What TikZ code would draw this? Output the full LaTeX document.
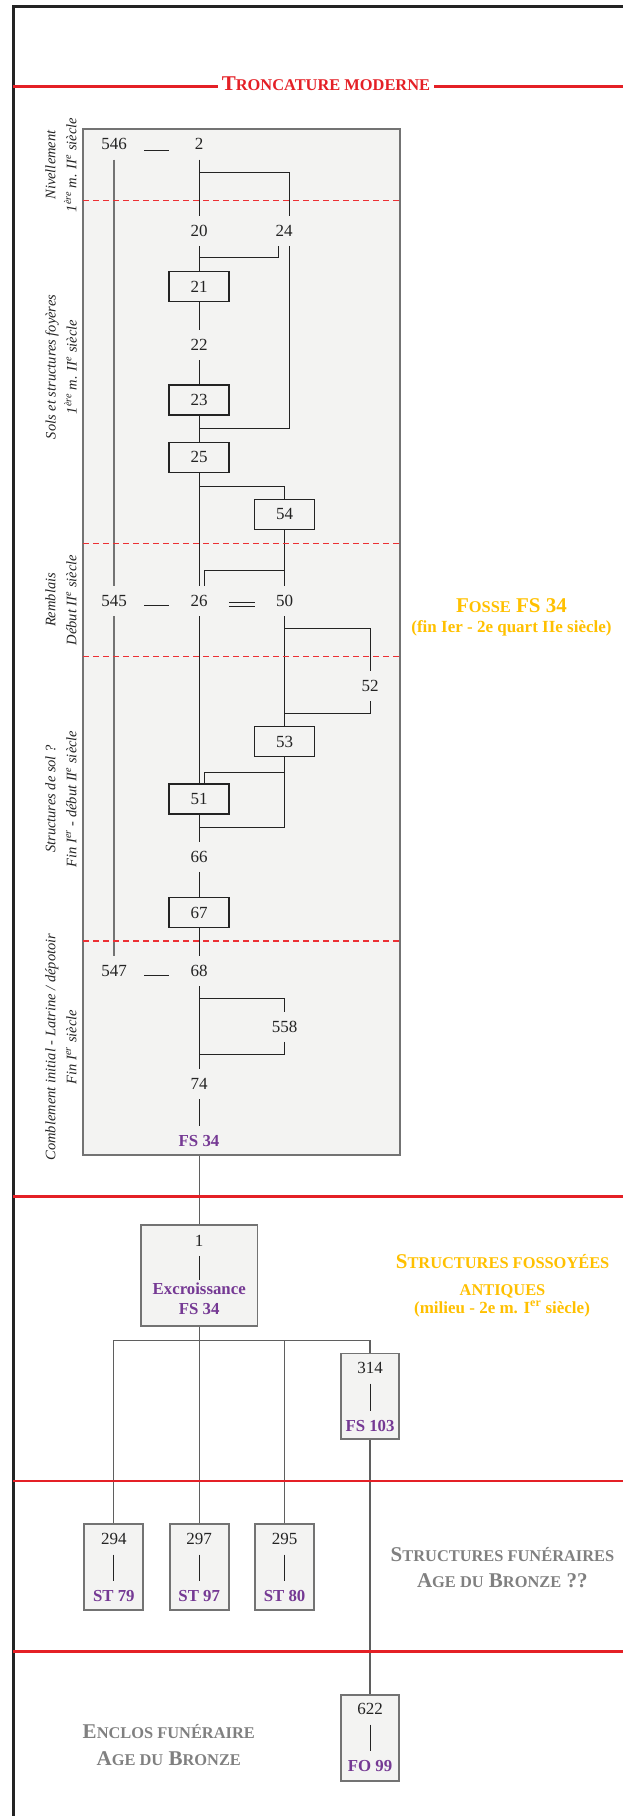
\documentclass[tikz,border=0pt]{standalone}
\usepackage{fontspec}
\setmainfont{Liberation Serif}
\usetikzlibrary{calc}
\definecolor{framegray}{RGB}{35,35,35}
\definecolor{boxgray}{RGB}{115,115,115}
\definecolor{treegray}{RGB}{95,95,95}
\definecolor{usblack}{RGB}{35,35,35}
\definecolor{panelfill}{RGB}{243,243,242}
\definecolor{sepred}{RGB}{228,32,38}
\definecolor{dashred}{RGB}{236,48,52}
\definecolor{fspurple}{RGB}{117,57,148}
\definecolor{gold}{RGB}{255,192,0}
\definecolor{titlegray}{RGB}{128,128,128}
\newcommand{\smc}[1]{{\fontsize{16.4}{18}\selectfont #1}}
\tikzset{
    title/.style={
        anchor=base, inner sep=0pt, font=\bfseries\fontsize{21}{24}\selectfont
    },
    subtitle/.style={
        anchor=base, inner sep=0pt, font=\bfseries\fontsize{17}{20}\selectfont
    }
}

\begin{document}
\begin{tikzpicture}[x=1pt,y=-1pt]

\tikzset{
  us/.style={font=\fontsize{17}{20}\selectfont, text=usblack, minimum height=30pt, inner sep=0pt},
  usbox/.style={us, draw=usblack, line width=1.3pt, fill=panelfill, minimum width=60pt},
  fsl/.style={font=\bfseries\fontsize{16.8}{20}\selectfont, text=fspurple, minimum height=30pt, inner sep=0pt},
  lowbox/.style={draw=boxgray, line width=1.8pt, fill=panelfill, inner sep=0pt},
  panel/.style={draw=boxgray, line width=1.8pt, fill=panelfill, minimum width=317pt, minimum height=1026pt},
  link/.style={draw=usblack, line width=0.9pt},
  col/.style={draw=boxgray, line width=1.5pt},
  tree/.style={draw=treegray, line width=1.2pt},
  sep/.style={draw=sepred, line width=2.6pt},
  cut/.style={draw=dashred, line width=1.2pt, dash pattern=on 6pt off 4pt},
  frame/.style={draw=framegray, line width=3pt},
  period/.style={rotate=90, align=center, inner sep=0pt, text=usblack, font=\itshape\fontsize{14.5}{21}\selectfont},
}

\useasboundingbox (0,0) rectangle (623,1816);

% frame
\draw[frame] (13,1816) -- (13,6) -- (623,6);

% fosse FS 34
\node[panel] (fosse) at (241.5,642) {};

% units
\node[us] (u546) at (114,144.3) {546};
\node[us] (u2) at (199,144.3) {2};
\node[us] (u20) at (199,230.7) {20};
\node[us] (u24) at (284,230.7) {24};
\node[usbox] (b21) at (199,286.7) {21};
\node[us] (u22) at (199,345) {22};
\node[usbox] (b23) at (199,400) {23};
\node[usbox] (b25) at (199,457.3) {25};
\node[usbox] (b54) at (284.5,514.3) {54};
\node[us] (u545) at (114,601) {545};
\node[us] (u26) at (199,601) {26};
\node[us] (u50) at (284.5,601) {50};
\node[us] (u52) at (370,686) {52};
\node[usbox] (b53) at (284.5,741.7) {53};
\node[usbox] (b51) at (199,799) {51};
\node[us] (u66) at (199,856.7) {66};
\node[usbox] (b67) at (199,912.7) {67};
\node[us] (u547) at (114,971) {547};
\node[us] (u68) at (199,971) {68};
\node[us] (u558) at (284.5,1026.7) {558};
\node[us] (u74) at (199,1084) {74};
\node[fsl] (fs34) at (199,1140.7) {FS 34};

% column 546 - 545 - 547
\draw[col] (u546) -- (u545);
\draw[col] (u545) -- (u547);

% equivalences
\draw[link] ($(u546)!0.5!(u2)+(-12.5,6)$) -- ++(25,0);
\draw[link] ($(u545)!0.5!(u26)+(-12.5,4)$) -- ++(25,0);
\draw[link] ($(u547)!0.5!(u68)+(-12.5,4)$) -- ++(25,0);
\draw[link] ($(u26)!0.5!(u50)+(-13,1)$) -- ++(26,0);
\draw[link] ($(u26)!0.5!(u50)+(-13,5)$) -- ++(26,0);

% main sequence
\draw[link] (u2) -- (u20);
\draw[link] (u20) -- (b21);
\draw[link] (b21) -- (u22);
\draw[link] (u22) -- (b23);
\draw[link] (b23) -- (b25);
\draw[link] (b25) -- (u26);
\draw[link] (u26) -- (b51);
\draw[link] (b51) -- (u66);
\draw[link] (u66) -- (b67);
\draw[link] (b67) -- (u68);
\draw[link] (u68) -- (u74);
\draw[link] (u74) -- (fs34);

% side branches
\draw[link] ([yshift=-13pt]u2.south) -| ([xshift=5.5pt]u24.north);
\draw[link] ([yshift=-12pt]u20.south) -| ([xshift=-5.5pt]u24.south);
\draw[link] ([xshift=5.5pt]u24.south) |- ([yshift=-13pt]b23.south);
\draw[link] ([yshift=-13pt]b25.south) -| (b54.north);
\draw[link] (b54) -- (u50);
\draw[link] ([yshift=15pt]u50.north) -| ([xshift=5pt]u26.north);
\draw[link] (u50) -- (b53);
\draw[link] ([yshift=-12pt]u50.south) -| (u52.north);
\draw[link] (u52.south) |- ([yshift=13pt]b53.north);
\draw[link] ([yshift=-15pt]b53.south) -| ([xshift=5pt]b51.north);
\draw[link] (b53.south) |- ([yshift=-13pt]b51.south);
\draw[link] ([yshift=-12pt]u68.south) -| (u558.north);
\draw[link] (u558.south) |- ([yshift=14pt]u74.north);

% phase limits
\draw[cut] (83,200.7) -- (400,200.7);
\draw[cut] (83,543.3) -- (400,543.3);
\draw[cut] (83,656.7) -- (400,656.7);
\draw[cut] (83,941) -- (400,941);

% phases
\node[period] (per1) at (61,165) {Nivellement\\1\textsuperscript{ère} m. II\textsuperscript{e} siècle};
\node[period] (per2) at (61,367) {Sols et structures foyères\\1\textsuperscript{ère} m. II\textsuperscript{e} siècle};
\node[period] (per3) at (61,600) {Remblais\\Début II\textsuperscript{e} siècle};
\node[period] (per4) at (61,799) {Structures de sol ?\\Fin I\textsuperscript{er} - début II\textsuperscript{e} siècle};
\node[period] (per5) at (61,1047) {Comblement initial - Latrine / dépotoir\\Fin I\textsuperscript{er} siècle};

% structures
\node[lowbox, minimum width=116.5pt, minimum height=101pt] (x1) at (199.2,1275.5) {};
\node[us] (x1n) at (199.2,1240.7) {1};
\node[fsl, minimum height=0pt, inner ysep=3.3pt] (x1a) at (199.2,1289) {Excroissance};
\node[fsl, minimum height=0pt] (x1b) at (199.2,1309.3) {FS 34};
\draw[link] (x1n) -- (x1a);

\node[lowbox, minimum width=58.5pt, minimum height=85.5pt] (b314) at (370,1396.3) {};
\node[us] (n314) at (370,1368.3) {314};
\node[fsl] (s314) at (370,1425.7) {FS 103};
\draw[link] (n314) -- (s314);

\node[lowbox, minimum width=59pt, minimum height=86pt] (b294) at (113.8,1567.2) {};
\node[us] (n294) at (113.8,1539.3) {294};
\node[fsl] (s294) at (113.8,1596) {ST 79};
\draw[link] (n294) -- (s294);

\node[lowbox, minimum width=59pt, minimum height=86pt] (b297) at (199.2,1567.2) {};
\node[us] (n297) at (199.2,1539.3) {297};
\node[fsl] (s297) at (199.2,1596) {ST 97};
\draw[link] (n297) -- (s297);

\node[lowbox, minimum width=59pt, minimum height=86pt] (b295) at (284.6,1567.2) {};
\node[us] (n295) at (284.6,1539.3) {295};
\node[fsl] (s295) at (284.6,1596) {ST 80};
\draw[link] (n295) -- (s295);

\node[lowbox, minimum width=58.5pt, minimum height=85.5pt] (b622) at (370,1738) {};
\node[us] (n622) at (370,1709.3) {622};
\node[fsl] (s622) at (370,1766) {FO 99};
\draw[link] (n622) -- (s622);

% tree
\coordinate (fork) at ([yshift=-13.3pt]x1.south);
\draw[tree] (fosse.south -| x1.north) -- (x1.north);
\draw[tree] (x1.south) -- (fork);
\draw[tree] (b294.north) |- (fork) -| (b314.north);
\draw[tree] (fork) -- (b297.north);
\draw[tree] (b295.north) -- (b295.north |- fork);
\draw[tree] (b314.south) -- (b622.north);

% separators
\node[title, text=sepred, inner xsep=4pt] (tronc) at (326,90) {T\smc{RONCATURE MODERNE}};
\coordinate (tl) at (13,86.7);
\coordinate (tr) at (623,86.7);
\draw[sep] (tl) -- (tl -| tronc.west);
\draw[sep] (tronc.east |- tr) -- (tr);
\draw[sep] (13,1196.7) -- (623,1196.7);
\draw[sep] (13,1481) -- (623,1481);
\draw[sep] (13,1651.7) -- (623,1651.7);

% titles
\node[title, text=gold] (fosse-a) at (511.5,612.3) {F\smc{OSSE} FS 34};
\node[subtitle, text=gold] (fosse-b) at (511.5,632) {(fin Ier - 2e quart IIe siècle)};
\node[title, text=gold] (antiq-a) at (502.6,1268.3) {S\smc{TRUCTURES FOSSOYÉES}};
\node[title, text=gold] (antiq-b) at (502.5,1295) {\smc{ANTIQUES}};
\node[subtitle, text=gold] (antiq-c) at (502,1313) {(milieu - 2e m. I\textsuperscript{er} siècle)};
\node[title, text=titlegray] (fun-a) at (502.5,1561) {S\smc{TRUCTURES FUNÉRAIRES}};
\node[title, text=titlegray] (fun-b) at (502.3,1587.7) {A\smc{GE DU} B\smc{RONZE} ??};
\node[title, text=titlegray] (encl-a) at (168.8,1738.7) {E\smc{NCLOS FUNÉRAIRE}};
\node[title, text=titlegray] (encl-b) at (168.8,1765.3) {A\smc{GE DU} B\smc{RONZE}};

\end{tikzpicture}
\end{document}
